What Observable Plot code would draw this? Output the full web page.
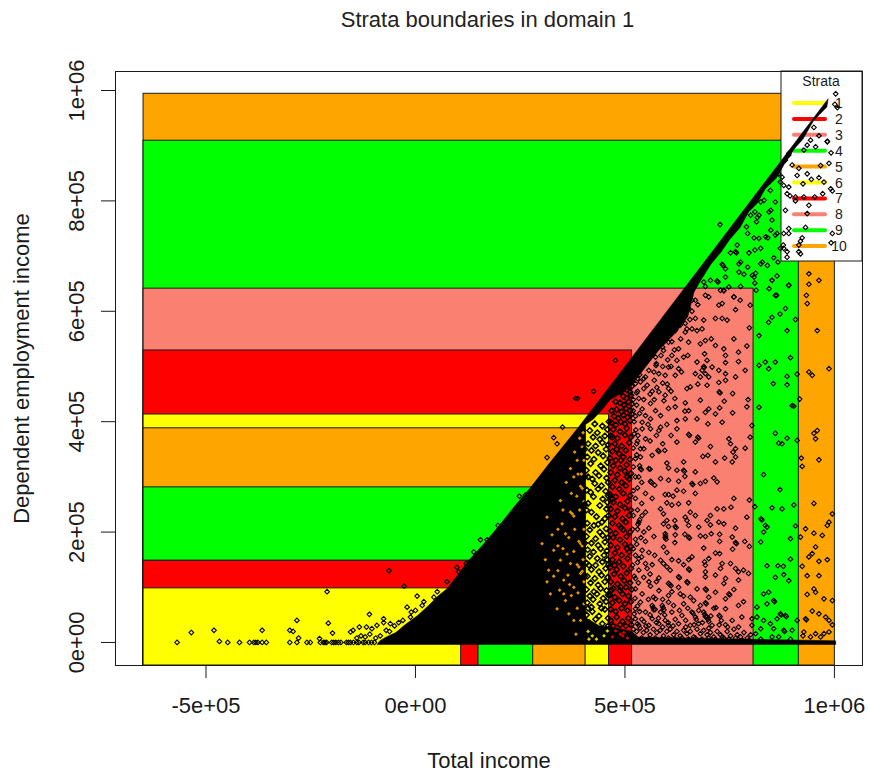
<!DOCTYPE html>
<html><head><meta charset="utf-8">
<script src="https://cdn.jsdelivr.net/npm/d3@7"></script>
<script src="https://cdn.jsdelivr.net/npm/@observablehq/plot@0.6"></script>
<style>
html,body{margin:0;padding:0;background:#fff}
#title{height:36px;line-height:34px;padding-top:7px;margin-bottom:-7px;text-align:center;font:22px "Liberation Sans",Arial,sans-serif;color:#222;padding-left:106px}
svg{display:block}
</style></head><body>
<div id="title">Strata boundaries in domain 1</div>
<div id="chart"></div>
<script>
// All values in thousands.
const strataNames = ["1","2","3","4","5","6","7","8","9","10"];
const strataColors = ["#ffff00","#ff0000","#fa8072","#00ff00","#ffa500","#ffff00","#ff0000","#fa8072","#00ff00","#ffa500"];
const strataX = [109,150,150,281,406,462,517,807,915,1001];
const strataY = [98,148,148,281,388,413,529,641,909,994];
const xDomain = [-716,1067];
const yDomain = [-41.7,1034.4];
const boxLeft = -649;
const xTicks = [-500,0,500,1000];
const xTickLabels = ["-5e+05","0e+00","5e+05","1e+06"];
const yTicks = [0,200,400,600,800,1000];
const yTickLabels = ["0e+00","2e+05","4e+05","6e+05","8e+05","1e+06"];

// outline of the area where points merge into solid black
const cloudOutline = [-92,-4,-85,3,-70,10,-47,18,-25,32,5,49,30,66,55,85,76,98,100,122,126,148,160,176,200,212,240,250,275,281,320,325,387,388,500,500,640,640,760,760,880,880,985,985,
982,970,950,945,925,912,905,895,880,866,862,842,835,822,815,795,795,780,775,752,750,730,730,708,705,685,680,655,665,635,650,590,622,562,580,529,540,490,520,470,500,455,465,440,449,425,425,405,406,395,406,45,440,30,470,28,517,20,530,10,1003,3,1003,-4];

// background showing through the solid cloud
const orangeGaps = [394,179,390,183,398,175,374,233,378,229,370,236,390,137,386,141,370,143,394,125,398,129,358,197,378,300,398,279,394,283,386,330,398,354,346,257,314,227,302,179,330,167,318,131,314,110,346,149,354,113,378,100,322,88,338,61,358,76,366,52,394,40,383,15,354,88,366,190,350,215,380,205,392,240,385,265,372,270,360,290,388,305,402,330,380,345,370,315,352,240,340,205,326,195,340,130,362,160,378,165,400,150,402,110,388,90,368,105,344,95,330,120,310,150,402,205,402,255,396,305,392,370,400,380,372,85,386,62,402,70,378,40,352,170,364,122,340,175];
const yellowGaps = [414,6,432,6,458,21,450,12,422,12,412,20];
const redGaps = [489,15,478,21,497,18,470,10,495,12,506,8];

const leftTail = [-569,0,-535,18,-481,22,-468,2,-448,0,-420,0,-396,0,-386,0,-381,0,-376,0,-366,0,-356,0,-366,22,-300,22,-292,20,-283,40,-300,0,-283,0,-279,8,-259,0,-251,0,-229,7,-227,0,-220,0,-216,0,-212,0,-200,0,-195,0,-190,0,-184,0,-178,0,-165,0,-160,0,-155,0,-148,0,-140,0,-135,0,-125,0,-120,0,-112,0,-105,0,-98,0,-211,92,-208,35,-198,17,-155,19,-149,22,-134,28,-110,51,-117,28,-104,25,-109,15,-92,31,-76,43,-76,36,-60,34,-20,64,4,84,16,67,0,58,-12,46,52,92,44,82,55,76,-95,8,-84,12,-120,10,-130,12,-140,8,-70,22,-62,20,-50,30,-40,36,-30,40,-10,55,20,74,-63,130,-27,102,75,110,99,136,103,128,121,143,139,164,155,186,171,186,197,212,248,265,262,267,314,335,338,360,330,371,351,390,382,442,387,442,425,455,477,511];

const greenPts = [843,580,851,589,870,595,883,605,907,585,887,565,820,556,862,629,851,656,891,647,835,508,859,508,843,496,895,516,820,502,911,486,887,482,854,469,887,467,820,426,899,429,903,428,859,379,887,370,867,361,875,360,911,366,831,304,870,277,810,246,851,244,875,242,903,249,825,224,827,222,835,212,839,209,907,211,831,200,895,188,824,182,839,139,895,151,865,139,878,138,859,118,879,123,891,112,815,64,831,88,843,91,855,76,857,74,815,46,839,70,871,52,873,50,883,49,885,47,863,43,847,34,831,40,879,22,881,20,899,22,855,25,824,25,911,40,867,10,895,6,824,6,812,16,851,10,
727,757,859,798,848,783,844,780,820,774,816,770,851,765,810,780,814,762,790,753,793,741,848,747,863,741,859,738,808,733,820,732,836,735,841,733,768,720,871,714,810,711,824,714,796,706,764,708,766,706,752,706,776,689,772,686,855,697,865,689,828,689,824,686,840,683,793,680,732,685,734,683,740,677,772,671,784,667,812,669,804,665,808,662,863,664,740,662,720,655,722,653,704,656,688,653,692,645,810,651,851,656,891,647,844,641,813,638,859,629,776,645,748,644,728,638,760,626,736,637,867,849,871,834,847,819,832,801,824,798,800,774];

const overLegend = [891,886,883,874,899,865,915,859,935,849,963,842,911,846,987,868,967,864,875,843,879,828,891,825,925,831,945,839,975,834,991,822,995,818,887,813,894,809,907,807,927,807,953,807,972,813,907,800,939,792,883,783,935,777,931,752,891,750,891,741,879,741,995,741,923,733,919,727,992,724,915,720,878,720,879,714,915,708,919,704,887,708,887,698,943,910,935,901,983,908,955,898,927,892,992,887,891,883,1003,994,1001,975,1007,969,951,933,963,918,983,907];

const orangePts = [939,668,963,656,939,649,933,629,935,614,959,565,917,441,939,490,947,484,987,496,951,379,959,384,955,369,921,334,923,319,963,331,951,252,995,233,931,206,951,198,987,218,983,212,971,194,919,191,955,173,947,161,939,155,923,138,963,147,983,150,935,121,963,121,951,97,955,91,935,87,995,76,975,79,947,57,963,52,931,43,933,41,979,46,987,40,995,32,927,19,955,16,987,19,943,10,967,10,925,12,975,16];

const salmonPts = [668,620,692,629,700,626,724,611,732,614,736,638,760,626,775,620,764,603,799,611,716,587,732,587,744,584,797,570,684,568,672,565,692,547,706,550,680,541,716,538,736,532,760,550,791,537,740,520,690,523,771,526,696,511,672,508,740,507,771,509,688,500,689,498,708,499,724,493,684,493,692,487,668,487,740,487,787,493,680,481,700,481,764,481,740,475,724,471,696,466,674,468,656,463,648,460,725,454,727,452,757,451,680,439,737,437,794,440,644,434,619,442,596,448,700,423,692,417,716,414,726,425,757,416,791,427,652,420,643,419,620,427,604,424,585,411,672,405,644,405,624,402,698,396,732,399,803,393,624,387,585,390,581,384,652,377,654,375,674,372,676,370,624,363,668,363,748,369,799,372,752,360,704,355,787,352,764,351,758,345,738,334,764,336,698,339,686,337,716,327,756,327,640,327,600,325,579,348,581,346,595,348,565,339,545,351,537,336,
581,487,596,484,569,490,557,493,549,481,537,472,525,469,553,466,581,454,561,433,541,423,573,420,549,411,533,442,604,460,620,484,628,496,604,499,624,511,640,517,612,520,592,529,573,517,553,511,541,502,581,541,604,544,628,532,652,544,644,562,660,568,668,587,644,578,620,565,600,559,652,605,688,584,541,387,541,399,561,387,531,375,549,369,537,351,525,333,561,405,590,500,575,505,560,520,545,530,530,495,525,510,535,485,545,460,560,450,530,455,528,430,525,410,545,440,570,440,590,470,610,500,635,490,650,520,600,570,585,555,575,545,625,595,640,610,655,585,660,620,526,385,555,395,528,360,560,365,575,375,590,360,610,375,600,395,535,320,525,300,
537,315,539,313,557,315,560,314,604,316,624,312,640,312,642,310,668,309,643,301,561,292,563,290,533,300,585,297,604,294,628,292,660,288,662,286,680,288,692,292,712,298,720,291,571,285,624,276,604,268,668,270,640,274,549,270,565,261,525,261,596,268,615,265,600,253,628,251,652,253,585,242,612,249,760,261,797,258,720,242,736,242,753,245,549,236,533,218,535,222,531,214,541,230,592,233,656,236,644,227,668,230,704,230,696,221,648,221,600,221,619,221,592,215,604,210,620,210,622,208,652,212,704,213,724,218,736,215,791,227,557,207,676,209,764,207,596,197,597,193,596,190,598,187,620,195,643,196,652,191,654,189,680,193,692,192,706,197,726,196,569,192,525,187,549,183,619,181,726,183,756,191,764,181,766,179,786,183,688,171,592,173,600,163,797,174,757,169,716,162,726,161,541,167,557,163,571,158,660,155,700,152,652,150,612,150,628,148,525,158,533,152,690,146,585,149,592,143,600,137,608,131,565,141,549,143,553,134,640,141,732,143,752,143,692,140,652,133,654,131,728,134,764,134,783,131,795,125,692,128,771,128,533,131,628,119,630,117,692,119,581,117,525,116,716,122,740,116,771,113,557,110,604,107,607,105,610,103,648,110,650,108,736,107,692,97,694,95,716,91,748,88,750,86,672,97,760,96,628,100,561,102,525,97,541,88,581,94,604,85,656,82,700,82,783,74,740,79,632,88,573,79,537,73,604,73,664,76,692,72,694,70,717,63,771,67,565,67,567,63,569,59,589,67,591,63,593,59,616,67,640,70,680,67,740,61,525,61,585,55,549,55,612,55,660,55,662,53,688,55,690,51,692,47,725,49,727,47,696,46,698,42,700,38,636,49,779,46,803,43,525,43,565,43,596,40,668,46,756,40,533,31,557,31,581,34,604,31,628,34,656,31,676,34,708,31,740,32,771,28,803,31,
520,24,528,20,536,26,544,18,552,22,560,14,568,24,576,18,584,22,592,12,600,20,608,24,616,14,624,20,632,12,640,22,648,16,656,20,664,10,672,24,680,16,688,22,696,14,704,18,712,10,720,20,728,14,736,8,744,20,752,12,760,24,768,14,776,10,784,18,792,8,800,14,524,10,540,8,556,6,572,8,588,6,604,8,620,6,636,8,652,6,668,8,684,6,700,8,716,6,732,10,748,6,764,8,780,4,796,4,530,34,545,38,575,36,590,28,615,30,645,28,665,32,685,36,700,26,725,32,745,28,
522,52,530,66,540,42,550,30,560,50,572,60,580,44,595,50,603,36,620,42,630,58,645,40,650,62,670,42,676,58,705,48,712,62,730,40,515,40,524,80,535,56,556,78,568,82,590,78,612,92,640,84,522,120,532,108,545,118,560,124,575,110,518,140,530,145,540,155,520,170,528,178,538,190,518,205,530,205,545,200,520,230,530,240,540,252,520,275,530,280,540,290,520,318,528,340,520,352,530,365,522,378,522,400,535,415,520,420,528,452,520,440,545,478,530,478,
601,468,610,455,593,438,576,462,570,475,565,455,602,512,586,520,566,530,554,522,540,515,532,505,618,530,633,550,612,545,632,575,648,568,660,600,674,612,606,578,590,535,574,502];

const yellowPts = [410,72,424,78,440,70,455,74,416,84,433,88,448,80,460,86,408,96,426,92,442,98,456,94,418,108,436,104,452,110,410,120,428,116,444,122,459,118,420,132,438,128,454,134,408,144,430,140,446,146,461,142,416,156,434,152,450,158,411,168,425,164,442,170,457,166,420,180,436,176,452,182,408,192,430,188,447,194,460,190,416,204,440,200,455,206,410,216,426,212,445,218,432,228,452,224,461,230,408,240,420,236,456,242,412,252,440,248,458,254,425,264,447,260,460,266,409,276,418,272,436,278,454,274,428,288,444,284,460,290,412,300,422,296,438,302,456,298,408,312,430,308,450,314,418,324,442,320,458,326,410,336,426,332,448,338,420,348,436,344,455,350,412,360,430,356,446,362,460,358,424,372,440,368,452,374,416,384,434,380,458,386,428,396,446,392,414,140,436,214,458,150,404,250,404,120,404,300,404,180,404,350,
408,50,422,56,438,48,452,60,414,36,430,42,446,34,460,44,420,64,444,62,460,30,412,62];

const redPts = [466,60,478,56,492,62,506,58,470,72,486,76,500,70,514,74,464,86,476,82,494,88,508,84,472,98,488,94,502,100,516,96,466,110,482,106,498,112,512,108,474,124,490,120,504,126,464,136,480,132,496,138,514,134,470,150,486,146,506,152,476,162,492,158,510,164,466,176,482,172,500,178,514,174,472,190,488,186,504,192,464,202,478,198,496,204,512,200,470,216,486,212,502,218,476,228,494,224,510,230,466,242,482,238,500,244,514,240,472,254,488,250,506,256,464,268,478,264,496,270,512,266,470,282,486,278,502,284,476,294,492,290,510,296,466,308,482,304,500,310,514,306,472,320,488,316,504,322,464,334,478,330,496,336,512,332,470,346,486,342,502,348,476,360,492,356,510,362,466,374,482,370,500,376,514,372,472,386,488,382,504,388,468,398,478,394,490,400,500,396,512,402,474,410,484,406,496,412,506,408,516,414,480,422,492,418,502,424,512,420,488,434,498,430,508,436,516,432,496,446,504,442,514,448,504,458,512,454,516,464,510,470,516,480,
466,40,480,46,494,38,508,44,472,30,488,32,502,30,515,32,500,470,490,455,478,436,468,420,462,400,470,372,480,350,490,330,505,300,470,260,490,208,505,170,475,140,490,100,468,95];

const rows = a => d3.range(0,a.length,2).map(i => ({x:a[i],y:a[i+1]}));
const strata = strataNames.map((name,i)=>({name,color:strataColors[i],x:strataX[i],y:strataY[i]}));
const sparsePoints = [leftTail,greenPts,overLegend,orangePts,salmonPts].flatMap(rows);
const densePoints = [yellowPts,redPts].flatMap(rows);

const ink = "#1a1a1a";
function legend(index, scales, values, dims){
  const right = dims.width - dims.marginRight, top = dims.marginTop;
  const g = d3.create("svg:g");
  g.append("rect").attr("x",right-81).attr("y",top).attr("width",81).attr("height",190)
    .attr("fill","#fff").attr("stroke",ink);
  g.append("text").attr("x",right-41).attr("y",top+15).attr("text-anchor","middle")
    .attr("font-size",14).attr("fill",ink).text("Strata");
  strata.forEach((s,i)=>{
    const y = top + 32 + i*15.9;
    g.append("line").attr("x1",right-68).attr("x2",right-37).attr("y1",y).attr("y2",y)
      .attr("stroke",s.color).attr("stroke-width",4).attr("stroke-linecap","round");
    g.append("text").attr("x",right-23).attr("y",y+5).attr("font-size",14).attr("fill",ink).text(s.name);
  });
  return g.node();
}

const chart = Plot.plot({
  width: 869, height: 740,
  marginLeft: 115, marginRight: 7, marginTop: 35, marginBottom: 111,
  style: {fontFamily:'"Liberation Sans",Arial,sans-serif', background:"#fff", color:ink},
  x: {domain:xDomain, axis:null},
  y: {domain:yDomain, axis:null},
  marks: [
    Plot.rect(strata.slice().reverse(), {x1:()=>boxLeft, x2:"x", y1:()=>yDomain[0], y2:"y", fill:"color", stroke:ink, strokeWidth:1}),
    legend,
    Plot.line(rows(cloudOutline), {x:"x", y:"y", fill:"#000", stroke:"#000", strokeWidth:0.5}),
    Plot.dot(rows(orangeGaps), {x:"x", y:"y", r:1.7, symbol:"diamond2", fill:"#e89600"}),
    Plot.dot(rows(yellowGaps), {x:"x", y:"y", r:1.7, symbol:"diamond2", fill:"#d9d900"}),
    Plot.dot(rows(redGaps), {x:"x", y:"y", r:1.7, symbol:"diamond2", fill:"#d90000"}),
    Plot.dot(sparsePoints, {x:"x", y:"y", r:2.1, symbol:"diamond2", stroke:"#000", strokeWidth:1.1, fill:"none"}),
    Plot.dot(densePoints, {x:"x", y:"y", r:2.5, symbol:"diamond2", stroke:"#000", strokeWidth:1.5, fill:"none"}),
    Plot.frame({stroke:ink, strokeWidth:1}),
    Plot.axisX({ticks:xTicks, tickFormat:d=>xTickLabels[xTicks.indexOf(d)], tickSize:13, tickPadding:19, fontSize:22,
      label:"Total income", labelAnchor:"center", labelArrow:"none", labelOffset:102, stroke:ink}),
    Plot.axisY({ticks:yTicks, tickFormat:d=>yTickLabels[yTicks.indexOf(d)], tickSize:14, tickPadding:18, tickRotate:-90, fontSize:22,
      label:"Dependent employment income", labelAnchor:"center", labelArrow:"none", labelOffset:102, stroke:ink})
  ]
});
document.getElementById("chart").append(chart);
</script>
</body></html>
